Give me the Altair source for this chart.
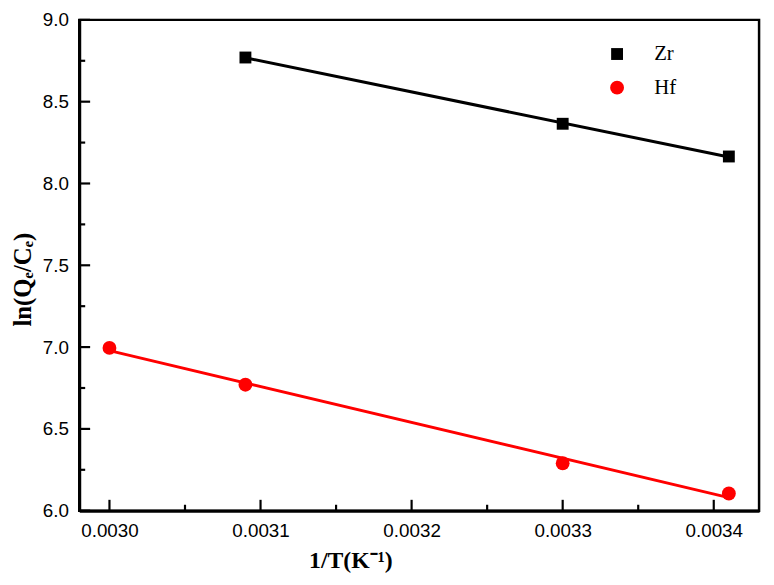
import altair as alt
import pandas as pd

# Data
zr_x = [0.00309, 0.00330, 0.00341]
zr_y = [8.77, 8.365, 8.165]
hf_x = [0.00300, 0.00309, 0.00330, 0.00341]
hf_y = [6.995, 6.77, 6.29, 6.105]

series_names = ["Zr", "Hf"]
series_colors = ["#000000", "#ff0000"]
series_shapes = ["square", "circle"]

x_major = [0.0030, 0.0031, 0.0032, 0.0033, 0.0034]
x_minor = [0.00305, 0.00315, 0.00325, 0.00335]
y_major = [6.0, 6.5, 7.0, 7.5, 8.0, 8.5, 9.0]
y_minor = [6.25, 6.75, 7.25, 7.75, 8.25, 8.75]

df = pd.DataFrame(
    {"x": zr_x + hf_x, "y": zr_y + hf_y, "series": ["Zr"] * len(zr_x) + ["Hf"] * len(hf_x)}
)

W, H = 687, 496
xs = alt.Scale(domain=[0.00298, 0.00343], nice=False, zero=False)
ys = alt.Scale(domain=[6.0, 9.0], nice=False, zero=False)

legend_cfg = dict(
    title=None,
    orient="none",
    legendX=533,
    legendY=24,
    labelFont="Liberation Serif",
    labelFontSize=21,
    labelColor="black",
    labelOffset=27,
    symbolSize=140,
    symbolStrokeWidth=0,
    symbolOpacity=1,
    rowPadding=12,
    padding=0,
)

color = alt.Color(
    "series:N",
    scale=alt.Scale(domain=series_names, range=series_colors),
    legend=alt.Legend(**legend_cfg),
)
shape = alt.Shape(
    "series:N",
    scale=alt.Scale(domain=series_names, range=series_shapes),
    legend=alt.Legend(**legend_cfg),
)

x_enc = alt.X(
    "x:Q",
    scale=xs,
    axis=alt.Axis(
        values=x_major,
        format=".4f",
        title="1/T(K⁻¹)",
        titleFont="Liberation Serif",
        titleFontSize=24,
        titleFontWeight="bold",
        titleColor="black",
        titleX=274,
        titleY=57,
        titleBaseline="alphabetic",
        titleAlign="center",
        titleAnchor="start",
    ),
)
y_enc = alt.Y(
    "y:Q",
    scale=ys,
    axis=alt.Axis(
        values=y_major,
        format=".1f",
        title="ln(Qₑ/Cₑ)",
        titleFont="Liberation Serif",
        titleFontSize=25,
        titleFontWeight="bold",
        titleColor="black",
        titleAngle=270,
        titleX=-57,
        titleY=262,
        titleBaseline="middle",
        titleAlign="center",
        titleAnchor="start",
    ),
)

base = alt.Chart(df)

fit = (
    base.transform_regression("x", "y", groupby=["series"])
    .mark_line(strokeWidth=3, clip=True)
    .encode(
        x=alt.X("x:Q", scale=xs),
        y=alt.Y("y:Q", scale=ys),
        color=alt.Color("series:N", scale=alt.Scale(domain=series_names, range=series_colors), legend=None),
    )
)

points = base.mark_point(filled=True, opacity=1).encode(
    x=x_enc,
    y=y_enc,
    color=color,
    shape=shape,
    size=alt.Size("series:N", scale=alt.Scale(domain=series_names, range=[144, 196]), legend=None),
)

xticks_major = alt.Chart(pd.DataFrame({"v": x_major})).mark_rule(color="black", strokeWidth=2.2).encode(
    x=alt.X("v:Q", scale=xs), y=alt.value(H), y2=alt.value(H - 11)
)
xticks_minor = alt.Chart(pd.DataFrame({"v": x_minor})).mark_rule(color="black", strokeWidth=2.2).encode(
    x=alt.X("v:Q", scale=xs), y=alt.value(H), y2=alt.value(H - 6)
)
yticks_major = alt.Chart(pd.DataFrame({"v": y_major})).mark_rule(color="black", strokeWidth=2.2).encode(
    y=alt.Y("v:Q", scale=ys), x=alt.value(0), x2=alt.value(11)
)
yticks_minor = alt.Chart(pd.DataFrame({"v": y_minor})).mark_rule(color="black", strokeWidth=2.2).encode(
    y=alt.Y("v:Q", scale=ys), x=alt.value(0), x2=alt.value(6)
)

chart = (
    alt.layer(points, fit, xticks_major, xticks_minor, yticks_major, yticks_minor)
    .properties(
        width=W,
        height=H,
        autosize=alt.AutoSizeParams(type="none"),
        padding={"left": 72, "top": 9, "right": 7, "bottom": 64},
        background="white",
    )
    .configure_view(stroke="black", strokeWidth=2.5)
    .configure_axis(
        grid=False,
        ticks=False,
        domainColor="black",
        domainWidth=3,
        labelFont="Liberation Sans",
        labelFontSize=19,
        labelColor="black",
        labelPadding=11,
    )
)

chart.save("out.html", embed_options={"renderer": "svg", "actions": False})
